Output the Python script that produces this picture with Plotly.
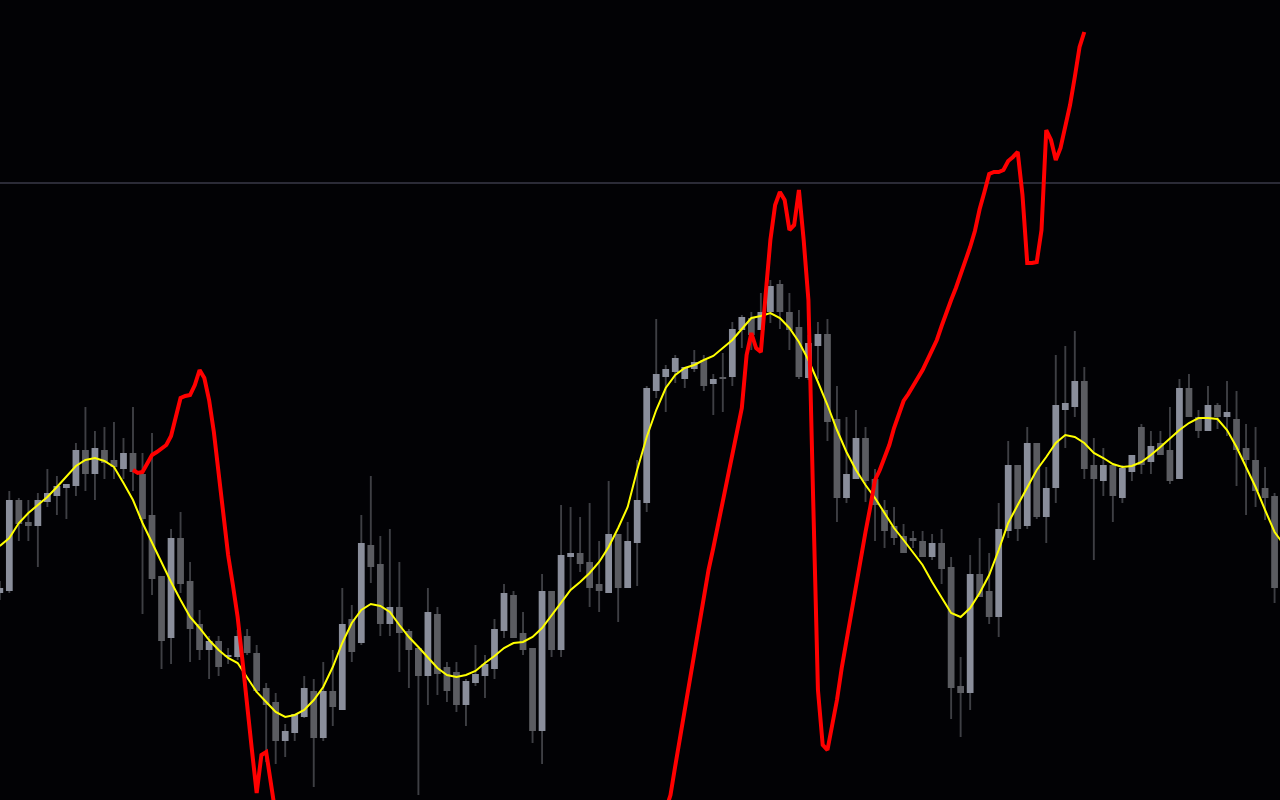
import plotly.graph_objects as go

# ---------------- data (price levels, arbitrary units) ----------------
opens = [207, 209, 300, 278, 274, 298, 304, 312, 314, 350, 326, 350, 340, 331, 347, 326, 285, 224, 162, 262,
         219, 176, 150, 159, 143, 143, 164, 147, 112, 98, 59, 67, 83, 109, 62, 109, 90, 181, 157, 255,
         236, 176, 193, 169, 152, 124, 186, 133, 128, 95, 117, 124, 131, 169, 205, 167, 152, 69, 209, 150,
         243, 247, 238, 216, 207, 266, 212, 257, 297, 409, 423, 428, 421, 431, 440, 416, 423, 423, 470, 482,
         470, 488, 516, 488, 473, 422, 454, 466, 381, 302, 321, 362, 321, 290, 274, 264, 262, 259, 243, 257,
         233, 114, 107, 226, 209, 183, 269, 335, 274, 357, 283, 312, 390, 393, 419, 335, 319, 335, 302, 328,
         373, 338, 357, 350, 321, 412, 383, 369, 395, 383, 381, 352, 340, 312, 304]
highs = [219, 309, 302, 300, 307, 331, 324, 316, 357, 393, 369, 373, 378, 362, 393, 347, 367, 224, 271, 288,
         238, 190, 164, 164, 152, 170, 171, 155, 117, 107, 76, 86, 124, 121, 138, 150, 212, 195, 285, 324,
         264, 271, 238, 171, 152, 212, 193, 138, 138, 121, 155, 145, 181, 216, 209, 188, 152, 226, 209, 295,
         293, 283, 297, 259, 319, 266, 278, 340, 414, 481, 435, 445, 433, 450, 445, 426, 447, 478, 485, 488,
         507, 520, 520, 507, 490, 465, 478, 481, 414, 383, 390, 373, 331, 300, 293, 276, 269, 269, 266, 271,
         243, 143, 245, 262, 247, 297, 359, 335, 373, 357, 333, 445, 454, 469, 433, 362, 352, 335, 335, 345,
         376, 369, 369, 393, 421, 426, 390, 414, 397, 419, 409, 376, 373, 333, 307]
lows = [200, 207, 259, 259, 233, 293, 285, 281, 304, 309, 300, 321, 321, 321, 309, 186, 205, 131, 136, 207,
        138, 140, 121, 124, 136, 140, 145, 107, 38, 36, 43, 59, 82, 13, 59, 74, 90, 138, 155, 217,
        164, 164, 128, 112, 5, 95, 105, 98, 88, 74, 114, 102, 121, 162, 162, 145, 57, 36, 143, 143,
        210, 228, 193, 188, 207, 178, 212, 214, 288, 402, 388, 417, 412, 428, 409, 385, 388, 414, 452, 450,
        470, 477, 471, 450, 421, 420, 421, 359, 278, 297, 321, 298, 259, 252, 255, 247, 252, 243, 240, 216,
        81, 63, 90, 203, 176, 163, 262, 259, 271, 281, 257, 297, 352, 383, 321, 240, 304, 278, 297, 319,
        326, 326, 345, 316, 321, 383, 362, 369, 371, 364, 314, 285, 293, 280, 197]
closes = [212, 300, 276, 274, 300, 307, 314, 316, 350, 326, 352, 337, 333, 347, 328, 281, 221, 159, 262, 216,
          171, 150, 159, 133, 145, 164, 147, 109, 95, 59, 69, 86, 112, 62, 109, 93, 176, 148, 257, 233,
          176, 193, 167, 150, 124, 188, 126, 109, 95, 119, 126, 136, 171, 207, 162, 150, 69, 209, 150, 245,
          247, 236, 212, 209, 266, 212, 259, 300, 412, 426, 431, 442, 433, 438, 414, 421, 421, 471, 483, 465,
          488, 514, 488, 470, 423, 457, 466, 378, 302, 326, 362, 319, 295, 269, 262, 247, 259, 243, 257, 231,
          112, 107, 226, 203, 183, 271, 335, 271, 357, 283, 312, 395, 397, 419, 331, 321, 335, 304, 332, 345,
          335, 354, 345, 319, 412, 383, 369, 395, 383, 388, 350, 340, 309, 302, 212]

# smoothed moving-average line, one value per bar (last value one bar past the edge)
smooth = [254, 262, 277, 287, 295, 303, 313, 323, 334, 340, 342, 339, 333, 317, 300, 277, 257, 237, 218, 200,
          183, 172, 160, 150, 142, 137, 123, 108, 98, 88, 83, 85, 90, 100, 113, 133, 157, 177, 190, 196,
          194, 188, 175, 163, 153, 142, 132, 125, 123, 125, 129, 137, 144, 152, 157, 158, 163, 172, 185, 198,
          210, 218, 227, 238, 253, 272, 293, 330, 363, 390, 412, 425, 432, 435, 440, 444, 452, 460, 471, 482,
          484, 487, 482, 472, 458, 440, 418, 395, 370, 348, 330, 315, 302, 287, 272, 260, 248, 235, 218, 203,
          187, 183, 192, 207, 225, 250, 277, 295, 313, 330, 343, 357, 365, 363, 357, 347, 342, 336, 333, 334,
          338, 345, 353, 362, 370, 377, 382, 382, 381, 370, 353, 333, 313, 290, 268, 255]

# red oscillator line, sampled every half bar
red_a_start = 14.0   # bar index of first sample of first visible part
red_a = [330, 327, 328, 337, 345, 348, 351, 355, 364, 382, 402, 404, 405, 415, 430, 422, 400, 368, 325, 280,
         245, 215, 183, 140, 90, 50, 7, 45, 48, 20, -15]
red_b_start = 70.0   # bar index of first sample of second visible part
red_b = [-10, 5, 34, 62, 90, 120, 145, 177, 206, 230, 252, 275, 300, 323, 348, 370, 392, 445, 467, 452,
         448, 505, 560, 595, 608, 600, 570, 575, 610, 560, 500, 300, 110, 55, 50, 75, 100, 132, 160, 187,
         215, 243, 268, 293, 320, 330, 342, 355, 372, 386, 399, 406, 415, 422, 430, 440, 449, 460, 474, 488,
         500, 512, 525, 538, 553, 569, 591, 608, 626, 628, 628, 630, 639, 643, 648, 605, 537, 537, 538, 570,
         670, 660, 640, 652, 673, 695, 723, 753, 768]

level = 617  # horizontal level line

# ---------------- styling ----------------
BG = "#020205"
BULL = "#8a8e9b"
BEAR = "#5b5c61"
WICK = "#3e3f44"

n = len(opens)
idx = list(range(n))

body_base = [min(o, c) for o, c in zip(opens, closes)]
body_h = [max(abs(c - o), 1.5) for o, c in zip(opens, closes)]
body_col = [BULL if c > o else BEAR for o, c in zip(opens, closes)]
wick_h = [h - l for h, l in zip(highs, lows)]

rx = [red_a_start + 0.5 * k for k in range(len(red_a))] + [None] + \
     [red_b_start + 0.5 * k for k in range(len(red_b))]
ry = red_a + [None] + red_b

fig = go.Figure()
# wicks (thin bars, drawn first so the bodies cover them)
fig.add_trace(go.Bar(x=idx, y=wick_h, base=lows, width=0.2,
                     marker=dict(color=WICK, line=dict(width=0)), hoverinfo="skip"))
# bodies
fig.add_trace(go.Bar(x=idx, y=body_h, base=body_base, width=0.71,
                     marker=dict(color=body_col, line=dict(width=0)), hoverinfo="skip"))
fig.add_trace(go.Scatter(x=list(range(len(smooth))), y=smooth, mode="lines",
                         line=dict(color="#ffff00", width=2), hoverinfo="skip"))
fig.add_trace(go.Scatter(x=rx, y=ry, mode="lines", connectgaps=False,
                         line=dict(color="#ff0000", width=4), hoverinfo="skip"))

fig.add_shape(type="line", xref="paper", x0=0, x1=1, yref="y", y0=level, y1=level,
              line=dict(color="#3a3a48", width=1.6), layer="below")

fig.update_layout(
    width=1280, height=800,
    margin=dict(l=0, r=0, t=0, b=0, pad=0),
    paper_bgcolor=BG, plot_bgcolor=BG,
    showlegend=False, hovermode=False, barmode="overlay",
    xaxis=dict(visible=False, range=[0.02, 134.57], showgrid=False, zeroline=False),
    yaxis=dict(visible=False, range=[0, 800], showgrid=False, zeroline=False),
)

fig.write_html("out.html",
               config={"displayModeBar": False, "staticPlot": True},
               post_script="document.body.style.margin='0';document.body.style.overflow='hidden';document.body.style.background='%s';" % BG)
